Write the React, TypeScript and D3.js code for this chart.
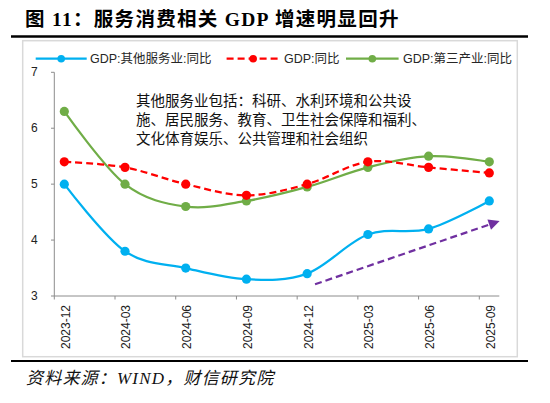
import React from "react";
import * as d3 from "d3";

const categories = ["2023-12", "2024-03", "2024-06", "2024-09", "2024-12", "2025-03", "2025-06", "2025-09"];
const otherServices = [5.0, 3.8, 3.5, 3.3, 3.4, 4.1, 4.2, 4.7];
const gdp = [5.4, 5.3, 5.0, 4.8, 5.0, 5.4, 5.3, 5.2];
const tertiary = [6.3, 5.0, 4.6, 4.7, 4.95, 5.3, 5.5, 5.4];
const yTicks = [3, 4, 5, 6, 7];
const seriesNames = ["GDP:其他服务业:同比", "GDP:同比", "GDP:第三产业:同比"];
const noteLines = [
  "其他服务业包括：科研、水利环境和公共设",
  "施、居民服务、教育、卫生社会保障和福利、",
  "文化体育娱乐、公共管理和社会组织",
];
// trend arrow in data space: [category index, value]
const arrowStart: [number, number] = [4.13, 3.21];
const arrowEnd: [number, number] = [7.17, 4.34];

const title = "图 11：服务消费相关 GDP 增速明显回升";
const source = "资料来源：WIND，财信研究院";

export default function App() {
  const W = 550, H = 403;
  const x = d3.scalePoint<string>().domain(categories).range([64.3, 489.3]);
  const xi = d3.scaleLinear().domain([0, categories.length - 1]).range([64.3, 489.3]);
  const y = d3.scaleLinear().domain([3, 7]).range([296, 72.3]);

  const line = d3
    .line<number>()
    .x((_, i) => x(categories[i]) as number)
    .y((d) => y(d))
    .curve(d3.curveCardinal.tension(0));

  const series = [
    { name: seriesNames[0], data: otherServices, color: "#00B0F0", dash: undefined as string | undefined },
    { name: seriesNames[1], data: gdp, color: "#FF0000", dash: "7 4" },
    { name: seriesNames[2], data: tertiary, color: "#70AD47", dash: undefined as string | undefined },
  ];
  const drawOrder = [series[0], series[2], series[1]];

  const legendItems = [
    { s: series[0], x0: 35.7, x1: 86.7, tx: 90 },
    { s: series[1], x0: 226.6, x1: 279.7, tx: 284 },
    { s: series[2], x0: 346, x1: 398.6, tx: 403 },
  ];

  const ax0 = xi(arrowStart[0]), ay0 = y(arrowStart[1]);
  const ax1 = xi(arrowEnd[0]), ay1 = y(arrowEnd[1]);
  const ang = Math.atan2(ay1 - ay0, ax1 - ax0);
  const headLen = 11, headW = 5.5;
  const bx = ax1 - headLen * Math.cos(ang), by = ay1 - headLen * Math.sin(ang);
  const px = -Math.sin(ang), py = Math.cos(ang);
  const head = `M${ax1},${ay1} L${bx + px * headW},${by + py * headW} L${bx - px * headW},${by - py * headW} Z`;

  const axisColor = "#8C8C8C";
  const sansFont = "'Liberation Sans', Arial, 'Noto Sans CJK SC', sans-serif";
  const serifFont = "'Liberation Serif', 'Times New Roman', 'Noto Sans CJK SC', serif";

  return (
    <svg width={W} height={H} style={{ position: "absolute", left: 0, top: 0, background: "#fff" }}>
      <rect x={0} y={0} width={W} height={H} fill="#fff" />
      <text x={25} y={26} fontSize={19.5} letterSpacing={1.3} fontWeight="bold" fontFamily={serifFont} fill="#000">
        {title}
      </text>
      <line x1={11} x2={528} y1={36.5} y2={36.5} stroke="#000" strokeWidth={2.5} />

      <rect x={22.7} y={40.7} width={494.6} height={316} fill="#fff" stroke="#D9D9D9" strokeWidth={1.5} />

      {/* legend */}
      {legendItems.map((it, i) => (
        <g key={i}>
          <line
            x1={it.x0}
            x2={it.x1}
            y1={58.7}
            y2={58.7}
            stroke={it.s.color}
            strokeWidth={2.25}
            strokeDasharray={it.s.dash}
          />
          <circle cx={(it.x0 + it.x1) / 2} cy={58.7} r={3.8} fill={it.s.color} />
          <text x={it.tx} y={63.2} fontSize={12.5} fontFamily={sansFont} fill="#262626">
            {it.s.name}
          </text>
        </g>
      ))}

      {/* y axis */}
      <line x1={54.3} x2={54.3} y1={y(7)} y2={y(3)} stroke={axisColor} strokeWidth={1} />
      {yTicks.map((t) => (
        <g key={t}>
          <line x1={51} x2={54.3} y1={y(t)} y2={y(t)} stroke={axisColor} strokeWidth={1} />
          <text
            x={37.8}
            y={y(t)}
            textAnchor="end"
            dominantBaseline="central"
            fontSize={12}
            fontFamily={sansFont}
            fill="#222"
          >
            {t}
          </text>
        </g>
      ))}

      {/* x axis */}
      <line x1={54.3} x2={499.3} y1={y(3)} y2={y(3)} stroke={axisColor} strokeWidth={1} />
      {categories.map((c) => (
        <g key={c}>
          <line
            x1={(x(c) as number) - 10}
            x2={(x(c) as number) - 10}
            y1={y(3)}
            y2={y(3) + 3.5}
            stroke={axisColor}
            strokeWidth={1}
          />
          <text
            transform={`translate(${(x(c) as number) + 1.4},305) rotate(-90)`}
            textAnchor="end"
            dominantBaseline="central"
            fontSize={12}
            fontFamily={sansFont}
            fill="#222"
          >
            {c}
          </text>
        </g>
      ))}

      {/* series */}
      {drawOrder.map((s) => (
        <g key={s.name}>
          <path
            d={line(s.data) as string}
            fill="none"
            stroke={s.color}
            strokeWidth={2.25}
            strokeDasharray={s.dash}
          />
          {s.data.map((v, i) => (
            <circle key={i} cx={x(categories[i]) as number} cy={y(v)} r={4.6} fill={s.color} />
          ))}
        </g>
      ))}

      {/* trend arrow */}
      <line x1={ax0} y1={ay0} x2={bx} y2={by} stroke="#7030A0" strokeWidth={2.25} strokeDasharray="7 4" />
      <path d={head} fill="#7030A0" />

      {/* note */}
      {noteLines.map((l, i) => (
        <text
          key={i}
          x={136}
          y={105.5 + i * 19}
          fontSize={14.5}
          fontFamily="'Noto Sans CJK SC', sans-serif"
          fill="#111"
        >
          {l}
        </text>
      ))}

      <line x1={11} x2={528} y1={361} y2={361} stroke="#000" strokeWidth={2} />
      <text x={26} y={384} fontSize={17} letterSpacing={1.2} fontStyle="italic" fontFamily={serifFont} fill="#111">
        {source}
      </text>
    </svg>
  );
}
